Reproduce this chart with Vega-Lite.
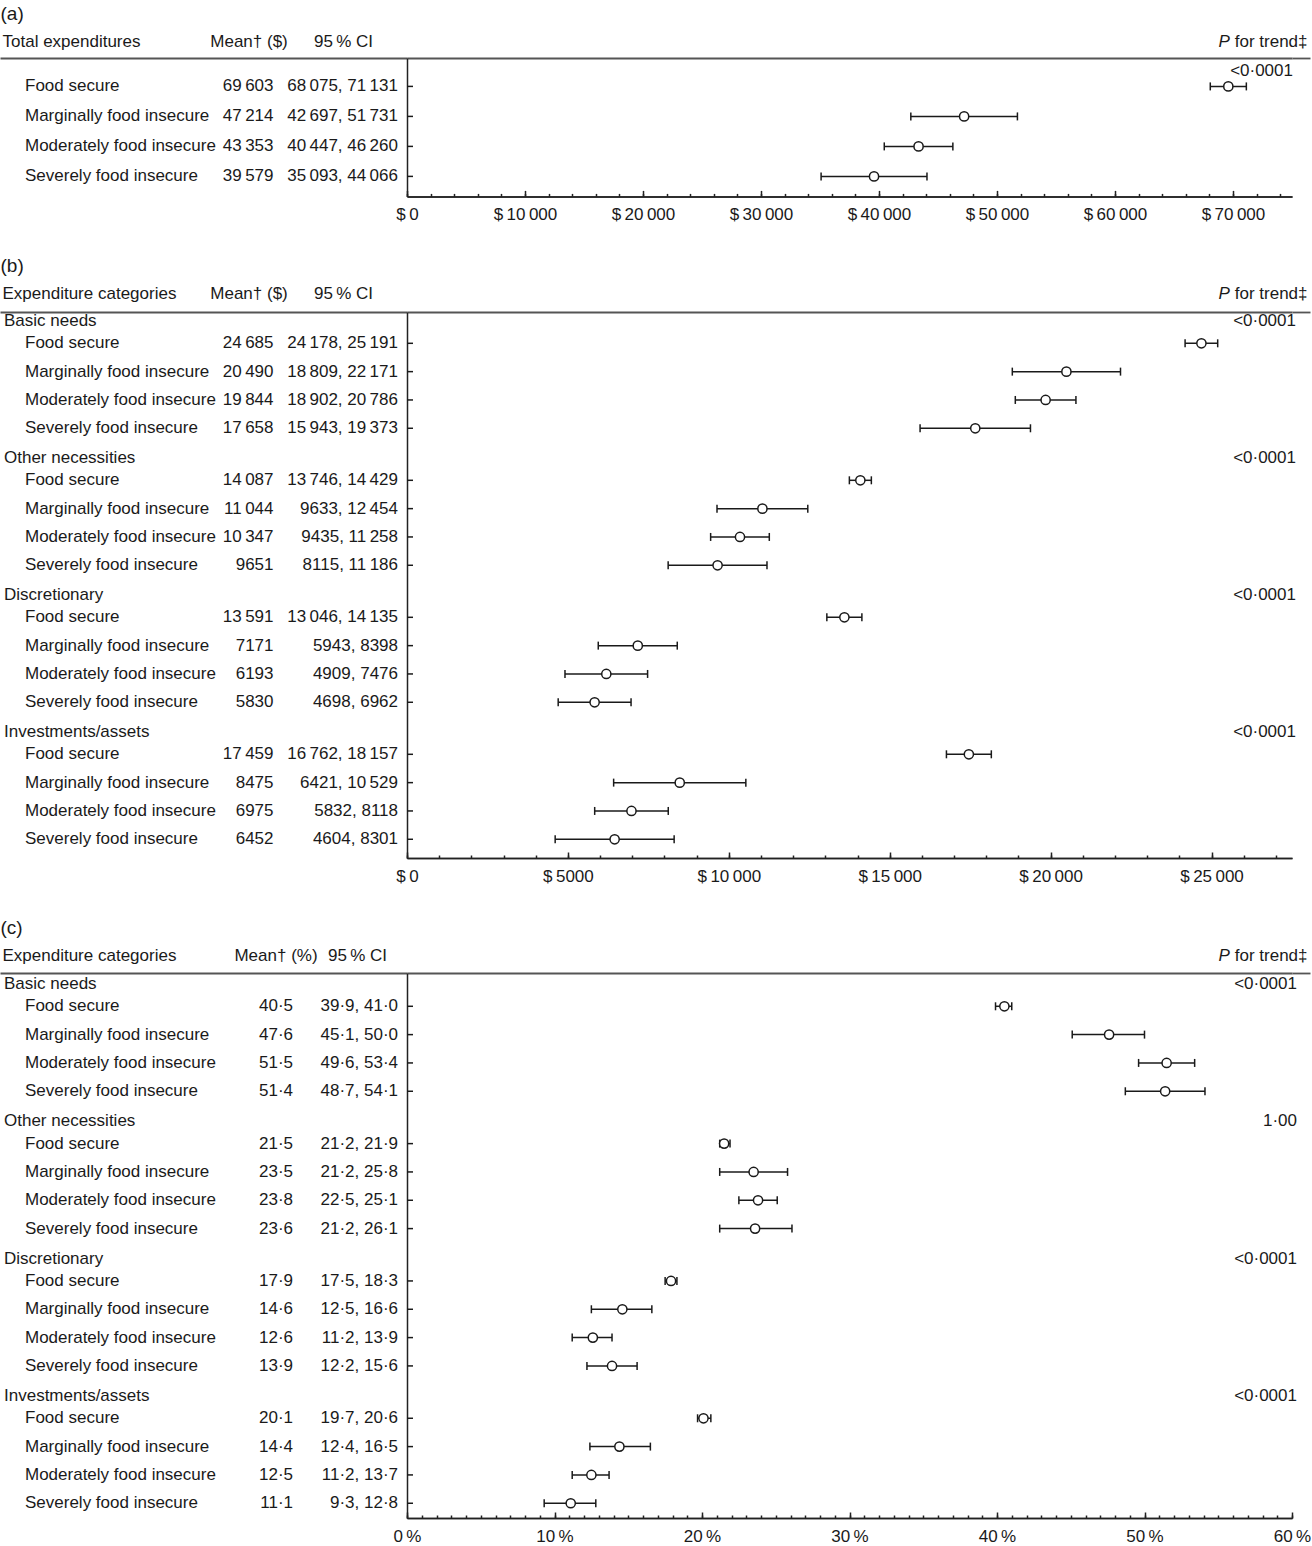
{
  "$schema": "https://vega.github.io/schema/vega-lite/v6.json",
  "padding": {"left": 0, "top": 4, "right": 0, "bottom": 0},
  "autosize": {"type": "pad"},
  "bounds": "flush",
  "columns": 3,
  "spacing": {"row": 115, "column": 0},
  "datasets": {
    "a": [
      {"item": "Food secure", "mean": 69603, "lo": 68075, "hi": 71131, "m": "69\u2009603", "ci": "68\u2009075, 71\u2009131"},
      {"item": "Marginally food insecure", "mean": 47214, "lo": 42697, "hi": 51731, "m": "47\u2009214", "ci": "42\u2009697, 51\u2009731"},
      {"item": "Moderately food insecure", "mean": 43353, "lo": 40447, "hi": 46260, "m": "43\u2009353", "ci": "40\u2009447, 46\u2009260"},
      {"item": "Severely food insecure", "mean": 39579, "lo": 35093, "hi": 44066, "m": "39\u2009579", "ci": "35\u2009093, 44\u2009066"}
    ],
    "b": [
      {"group": "Basic needs", "item": "Food secure", "mean": 24685, "lo": 24178, "hi": 25191, "m": "24\u2009685", "ci": "24\u2009178, 25\u2009191"},
      {"group": "Basic needs", "item": "Marginally food insecure", "mean": 20490, "lo": 18809, "hi": 22171, "m": "20\u2009490", "ci": "18\u2009809, 22\u2009171"},
      {"group": "Basic needs", "item": "Moderately food insecure", "mean": 19844, "lo": 18902, "hi": 20786, "m": "19\u2009844", "ci": "18\u2009902, 20\u2009786"},
      {"group": "Basic needs", "item": "Severely food insecure", "mean": 17658, "lo": 15943, "hi": 19373, "m": "17\u2009658", "ci": "15\u2009943, 19\u2009373"},
      {"group": "Other necessities", "item": "Food secure", "mean": 14087, "lo": 13746, "hi": 14429, "m": "14\u2009087", "ci": "13\u2009746, 14\u2009429"},
      {"group": "Other necessities", "item": "Marginally food insecure", "mean": 11044, "lo": 9633, "hi": 12454, "m": "11\u2009044", "ci": "9633, 12\u2009454"},
      {"group": "Other necessities", "item": "Moderately food insecure", "mean": 10347, "lo": 9435, "hi": 11258, "m": "10\u2009347", "ci": "9435, 11\u2009258"},
      {"group": "Other necessities", "item": "Severely food insecure", "mean": 9651, "lo": 8115, "hi": 11186, "m": "9651", "ci": "8115, 11\u2009186"},
      {"group": "Discretionary", "item": "Food secure", "mean": 13591, "lo": 13046, "hi": 14135, "m": "13\u2009591", "ci": "13\u2009046, 14\u2009135"},
      {"group": "Discretionary", "item": "Marginally food insecure", "mean": 7171, "lo": 5943, "hi": 8398, "m": "7171", "ci": "5943, 8398"},
      {"group": "Discretionary", "item": "Moderately food insecure", "mean": 6193, "lo": 4909, "hi": 7476, "m": "6193", "ci": "4909, 7476"},
      {"group": "Discretionary", "item": "Severely food insecure", "mean": 5830, "lo": 4698, "hi": 6962, "m": "5830", "ci": "4698, 6962"},
      {"group": "Investments/assets", "item": "Food secure", "mean": 17459, "lo": 16762, "hi": 18157, "m": "17\u2009459", "ci": "16\u2009762, 18\u2009157"},
      {"group": "Investments/assets", "item": "Marginally food insecure", "mean": 8475, "lo": 6421, "hi": 10529, "m": "8475", "ci": "6421, 10\u2009529"},
      {"group": "Investments/assets", "item": "Moderately food insecure", "mean": 6975, "lo": 5832, "hi": 8118, "m": "6975", "ci": "5832, 8118"},
      {"group": "Investments/assets", "item": "Severely food insecure", "mean": 6452, "lo": 4604, "hi": 8301, "m": "6452", "ci": "4604, 8301"}
    ],
    "bg": [
      {"group": "Basic needs", "p": "<0\u00b70001"},
      {"group": "Other necessities", "p": "<0\u00b70001"},
      {"group": "Discretionary", "p": "<0\u00b70001"},
      {"group": "Investments/assets", "p": "<0\u00b70001"}
    ],
    "c": [
      {"group": "Basic needs", "item": "Food secure", "mean": 40.5, "lo": 39.9, "hi": 41.0, "m": "40\u00b75", "ci": "39\u00b79, 41\u00b70"},
      {"group": "Basic needs", "item": "Marginally food insecure", "mean": 47.6, "lo": 45.1, "hi": 50.0, "m": "47\u00b76", "ci": "45\u00b71, 50\u00b70"},
      {"group": "Basic needs", "item": "Moderately food insecure", "mean": 51.5, "lo": 49.6, "hi": 53.4, "m": "51\u00b75", "ci": "49\u00b76, 53\u00b74"},
      {"group": "Basic needs", "item": "Severely food insecure", "mean": 51.4, "lo": 48.7, "hi": 54.1, "m": "51\u00b74", "ci": "48\u00b77, 54\u00b71"},
      {"group": "Other necessities", "item": "Food secure", "mean": 21.5, "lo": 21.2, "hi": 21.9, "m": "21\u00b75", "ci": "21\u00b72, 21\u00b79"},
      {"group": "Other necessities", "item": "Marginally food insecure", "mean": 23.5, "lo": 21.2, "hi": 25.8, "m": "23\u00b75", "ci": "21\u00b72, 25\u00b78"},
      {"group": "Other necessities", "item": "Moderately food insecure", "mean": 23.8, "lo": 22.5, "hi": 25.1, "m": "23\u00b78", "ci": "22\u00b75, 25\u00b71"},
      {"group": "Other necessities", "item": "Severely food insecure", "mean": 23.6, "lo": 21.2, "hi": 26.1, "m": "23\u00b76", "ci": "21\u00b72, 26\u00b71"},
      {"group": "Discretionary", "item": "Food secure", "mean": 17.9, "lo": 17.5, "hi": 18.3, "m": "17\u00b79", "ci": "17\u00b75, 18\u00b73"},
      {"group": "Discretionary", "item": "Marginally food insecure", "mean": 14.6, "lo": 12.5, "hi": 16.6, "m": "14\u00b76", "ci": "12\u00b75, 16\u00b76"},
      {"group": "Discretionary", "item": "Moderately food insecure", "mean": 12.6, "lo": 11.2, "hi": 13.9, "m": "12\u00b76", "ci": "11\u00b72, 13\u00b79"},
      {"group": "Discretionary", "item": "Severely food insecure", "mean": 13.9, "lo": 12.2, "hi": 15.6, "m": "13\u00b79", "ci": "12\u00b72, 15\u00b76"},
      {"group": "Investments/assets", "item": "Food secure", "mean": 20.1, "lo": 19.7, "hi": 20.6, "m": "20\u00b71", "ci": "19\u00b77, 20\u00b76"},
      {"group": "Investments/assets", "item": "Marginally food insecure", "mean": 14.4, "lo": 12.4, "hi": 16.5, "m": "14\u00b74", "ci": "12\u00b74, 16\u00b75"},
      {"group": "Investments/assets", "item": "Moderately food insecure", "mean": 12.5, "lo": 11.2, "hi": 13.7, "m": "12\u00b75", "ci": "11\u00b72, 13\u00b77"},
      {"group": "Investments/assets", "item": "Severely food insecure", "mean": 11.1, "lo": 9.3, "hi": 12.8, "m": "11\u00b71", "ci": "9\u00b73, 12\u00b78"}
    ],
    "cg": [
      {"group": "Basic needs", "p": "<0\u00b70001"},
      {"group": "Other necessities", "p": "1\u00b700"},
      {"group": "Discretionary", "p": "<0\u00b70001"},
      {"group": "Investments/assets", "p": "<0\u00b70001"}
    ],
    "ap": [
      {"item": "Food secure", "p": "<0\u00b70001"}
    ]
  },
  "concat": [
    {
      "width": 407, "height": 138.4,
      "data": {"name": "a"},
      "resolve": {"axis": {"x": "independent"}},
      "layer": [
        {
          "mark": {"type": "text", "align": "left", "dx": 25},
          "encoding": {
            "x": {"datum": "name", "type": "nominal", "scale": {"type": "point", "domain": ["name", "mean", "ci"], "padding": 0},
              "axis": {"orient": "top", "values": ["name", "mean", "ci"], "labelExpr": "datum.value === 'name' ? 'Total expenditures' : datum.value === 'mean' ? 'Mean\u2020 ($)' : '95\u2009% CI'", "labelAngle": 0, "ticks": false, "domain": true, "domainColor": "#555", "domainWidth": 1.8, "labelPadding": 17, "labelBaseline": "middle", "title": "(a)", "titleFontSize": 19, "titleX": 0, "titleY": -45, "titleAlign": "left", "titleBaseline": "middle", "titleAngle": 0,
                "labelAlign": {"condition": {"test": "datum.value === 'name'", "value": "left"}, "value": "center"},
                "labelOffset": {"condition": [{"test": "datum.value === 'name'", "value": 2}, {"test": "datum.value === 'mean'", "value": 45}], "value": -64}}},
            "y": {"field": "item", "type": "nominal", "scale": {"type": "band", "domain": ["Food secure", "Marginally food insecure", "Moderately food insecure", "Severely food insecure"], "paddingInner": 0, "paddingOuter": 0.307, "align": 0.728}, "axis": null},
            "text": {"field": "item"}
          }
        },
        {
          "mark": {"type": "text", "align": "right", "dx": 70},
          "encoding": {
            "x": {"datum": "mean", "type": "nominal", "axis": null},
            "y": {"field": "item", "type": "nominal", "axis": null},
            "text": {"field": "m"}
          }
        },
        {
          "mark": {"type": "text", "align": "right", "dx": -9},
          "encoding": {
            "x": {"datum": "ci", "type": "nominal", "axis": null},
            "y": {"field": "item", "type": "nominal", "axis": null},
            "text": {"field": "ci"}
          }
        }
      ]
    },
    {
      "width": 885, "height": 138.4,
      "data": {"name": "a"},
      "resolve": {"axis": {"x": "independent", "y": "independent"}},
      "layer": [
        {
          "mark": {"type": "rule", "color": "#1a1a1a", "strokeWidth": 1.5},
          "encoding": {
            "x": {"field": "lo", "type": "quantitative", "scale": {"domain": [0, 75000], "nice": false},
              "axis": {"orient": "bottom", "values": [0, 10000, 20000, 30000, 40000, 50000, 60000, 70000], "tickSize": -6, "labelPadding": 24.5, "labelBaseline": "middle", "title": null, "labelExpr": "'$\u2009' + (datum.value >= 10000 ? floor(datum.value / 1000) + '\u2009000' : datum.value)"}},
            "x2": {"field": "hi"},
            "y": {"field": "item", "type": "nominal", "scale": {"type": "band", "domain": ["Food secure", "Marginally food insecure", "Moderately food insecure", "Severely food insecure"], "paddingInner": 0, "paddingOuter": 0.307, "align": 0.728}, "axis": {"orient": "left", "domain": true, "ticks": false, "labels": false, "title": null}}
          }
        },
        {
          "mark": {"type": "tick", "color": "#1a1a1a", "thickness": 1.5, "size": 8, "opacity": 1},
          "encoding": {
            "x": {"field": "lo", "type": "quantitative", "axis": {"orient": "bottom", "values": [0, 2000, 4000, 6000, 8000, 10000, 12000, 14000, 16000, 18000, 20000, 22000, 24000, 26000, 28000, 30000, 32000, 34000, 36000, 38000, 40000, 42000, 44000, 46000, 48000, 50000, 52000, 54000, 56000, 58000, 60000, 62000, 64000, 66000, 68000, 70000, 72000, 74000], "tickSize": -3, "labels": false, "title": null}},
            "y": {"field": "item", "type": "nominal", "axis": null}
          }
        },
        {
          "mark": {"type": "tick", "color": "#1a1a1a", "thickness": 1.5, "size": 8, "opacity": 1},
          "encoding": {
            "x": {"field": "hi", "type": "quantitative", "axis": {"orient": "top", "domain": true, "domainColor": "#555", "domainWidth": 1.8, "ticks": false, "labels": false, "title": null}},
            "y": {"field": "item", "type": "nominal", "axis": null}
          }
        },
        {
          "mark": {"type": "point", "shape": "circle", "filled": true, "fill": "white", "stroke": "#1a1a1a", "strokeWidth": 1.5, "size": 85, "opacity": 1},
          "encoding": {
            "x": {"field": "mean", "type": "quantitative", "axis": null},
            "y": {"field": "item", "type": "nominal", "axis": null}
          }
        },
        {
          "mark": {"type": "tick", "orient": "horizontal", "color": "#1a1a1a", "thickness": 1.5, "size": 6, "xOffset": 3, "opacity": 1},
          "encoding": {
            "x": {"datum": 0, "type": "quantitative", "axis": null},
            "y": {"field": "item", "type": "nominal", "axis": null}
          }
        }
      ]
    },
    {
      "width": 18, "height": 138.4,
      "data": {"name": "ap"},
      "mark": {"type": "text", "align": "right", "dx": -8, "dy": -15},
      "encoding": {
        "x": {"datum": "p", "type": "nominal", "scale": {"type": "point", "domain": ["p"], "padding": 0},
          "axis": {"orient": "top", "values": ["p"], "labelExpr": "'for trend\u2021'", "labelAngle": 0, "labelAlign": "right", "labelOffset": 6, "ticks": false, "domain": true, "domainColor": "#555", "domainWidth": 1.8, "labelPadding": 17, "labelBaseline": "middle", "title": "P", "titleFontStyle": "italic", "titleX": -74, "titleY": -17, "titleAlign": "left", "titleBaseline": "middle", "titleAngle": 0}},
        "y": {"field": "item", "type": "nominal", "scale": {"type": "band", "domain": ["Food secure", "Marginally food insecure", "Moderately food insecure", "Severely food insecure"], "paddingInner": 0, "paddingOuter": 0.307, "align": 0.728}, "axis": null},
        "text": {"field": "p"}
      }
    },
    {
      "width": 407, "height": 546,
      "resolve": {"axis": {"x": "independent"}},
      "layer": [
        {
          "data": {"name": "bg"},
          "mark": {"type": "text", "align": "left", "dx": 4, "dy": -8},
          "encoding": {
            "x": {"datum": "name", "type": "nominal", "scale": {"type": "point", "domain": ["name", "mean", "ci"], "padding": 0},
              "axis": {"orient": "top", "values": ["name", "mean", "ci"], "labelExpr": "datum.value === 'name' ? 'Expenditure categories' : datum.value === 'mean' ? 'Mean\u2020 ($)' : '95\u2009% CI'", "labelAngle": 0, "ticks": false, "domain": true, "domainColor": "#555", "domainWidth": 1.8, "labelPadding": 19, "labelBaseline": "middle", "title": "(b)", "titleFontSize": 19, "titleX": 0, "titleY": -47, "titleAlign": "left", "titleBaseline": "middle", "titleAngle": 0,
                "labelAlign": {"condition": {"test": "datum.value === 'name'", "value": "left"}, "value": "center"},
                "labelOffset": {"condition": [{"test": "datum.value === 'name'", "value": 2}, {"test": "datum.value === 'mean'", "value": 45}], "value": -64}}},
            "y": {"field": "group", "type": "nominal", "bandPosition": 0, "scale": {"type": "band", "domain": ["Basic needs", "Other necessities", "Discretionary", "Investments/assets"], "paddingInner": 0.173, "paddingOuter": 0.0792, "align": 0.79}, "axis": null},
            "text": {"field": "group"}
          }
        },
        {
          "data": {"name": "b"},
          "mark": {"type": "text", "align": "left", "dx": 25},
          "encoding": {
            "x": {"datum": "name", "type": "nominal", "axis": null},
            "y": {"field": "group", "type": "nominal", "axis": null},
            "yOffset": {"field": "item", "type": "nominal", "scale": {"domain": ["Food secure", "Marginally food insecure", "Moderately food insecure", "Severely food insecure"], "paddingInner": 0, "paddingOuter": 0}},
            "text": {"field": "item"}
          }
        },
        {
          "data": {"name": "b"},
          "mark": {"type": "text", "align": "right", "dx": 70},
          "encoding": {
            "x": {"datum": "mean", "type": "nominal", "axis": null},
            "y": {"field": "group", "type": "nominal", "axis": null},
            "yOffset": {"field": "item", "type": "nominal"},
            "text": {"field": "m"}
          }
        },
        {
          "data": {"name": "b"},
          "mark": {"type": "text", "align": "right", "dx": -9},
          "encoding": {
            "x": {"datum": "ci", "type": "nominal", "axis": null},
            "y": {"field": "group", "type": "nominal", "axis": null},
            "yOffset": {"field": "item", "type": "nominal"},
            "text": {"field": "ci"}
          }
        }
      ]
    },
    {
      "width": 885, "height": 546,
      "data": {"name": "b"},
      "resolve": {"axis": {"x": "independent", "y": "independent"}},
      "layer": [
        {
          "mark": {"type": "rule", "color": "#1a1a1a", "strokeWidth": 1.5},
          "encoding": {
            "x": {"field": "lo", "type": "quantitative", "scale": {"domain": [0, 27500], "nice": false},
              "axis": {"orient": "bottom", "values": [0, 5000, 10000, 15000, 20000, 25000], "tickSize": -6, "labelPadding": 24.5, "labelBaseline": "middle", "title": null, "labelExpr": "'$\u2009' + (datum.value >= 10000 ? floor(datum.value / 1000) + '\u2009000' : datum.value)"}},
            "x2": {"field": "hi"},
            "y": {"field": "group", "type": "nominal", "scale": {"type": "band", "domain": ["Basic needs", "Other necessities", "Discretionary", "Investments/assets"], "paddingInner": 0.173, "paddingOuter": 0.0792, "align": 0.79}, "axis": {"orient": "left", "domain": true, "ticks": false, "labels": false, "title": null}},
            "yOffset": {"field": "item", "type": "nominal", "scale": {"domain": ["Food secure", "Marginally food insecure", "Moderately food insecure", "Severely food insecure"], "paddingInner": 0, "paddingOuter": 0}}
          }
        },
        {
          "mark": {"type": "tick", "color": "#1a1a1a", "thickness": 1.5, "size": 8, "opacity": 1},
          "encoding": {
            "x": {"field": "lo", "type": "quantitative", "axis": {"orient": "bottom", "values": [0, 1000, 2000, 3000, 4000, 5000, 6000, 7000, 8000, 9000, 10000, 11000, 12000, 13000, 14000, 15000, 16000, 17000, 18000, 19000, 20000, 21000, 22000, 23000, 24000, 25000, 26000, 27000], "tickSize": -3, "labels": false, "title": null}},
            "y": {"field": "group", "type": "nominal", "axis": null},
            "yOffset": {"field": "item", "type": "nominal"}
          }
        },
        {
          "mark": {"type": "tick", "color": "#1a1a1a", "thickness": 1.5, "size": 8, "opacity": 1},
          "encoding": {
            "x": {"field": "hi", "type": "quantitative", "axis": {"orient": "top", "domain": true, "domainColor": "#555", "domainWidth": 1.8, "ticks": false, "labels": false, "title": null}},
            "y": {"field": "group", "type": "nominal", "axis": null},
            "yOffset": {"field": "item", "type": "nominal"}
          }
        },
        {
          "mark": {"type": "point", "shape": "circle", "filled": true, "fill": "white", "stroke": "#1a1a1a", "strokeWidth": 1.5, "size": 85, "opacity": 1},
          "encoding": {
            "x": {"field": "mean", "type": "quantitative", "axis": null},
            "y": {"field": "group", "type": "nominal", "axis": null},
            "yOffset": {"field": "item", "type": "nominal"}
          }
        },
        {
          "mark": {"type": "tick", "orient": "horizontal", "color": "#1a1a1a", "thickness": 1.5, "size": 6, "xOffset": 3, "opacity": 1},
          "encoding": {
            "x": {"datum": 0, "type": "quantitative", "axis": null},
            "y": {"field": "group", "type": "nominal", "axis": null},
            "yOffset": {"field": "item", "type": "nominal"}
          }
        }
      ]
    },
    {
      "width": 18, "height": 546,
      "data": {"name": "bg"},
      "mark": {"type": "text", "align": "right", "dx": -5, "dy": -8},
      "encoding": {
        "x": {"datum": "p", "type": "nominal", "scale": {"type": "point", "domain": ["p"], "padding": 0},
          "axis": {"orient": "top", "values": ["p"], "labelExpr": "'for trend\u2021'", "labelAngle": 0, "labelAlign": "right", "labelOffset": 6, "ticks": false, "domain": true, "domainColor": "#555", "domainWidth": 1.8, "labelPadding": 19, "labelBaseline": "middle", "title": "P", "titleFontStyle": "italic", "titleX": -74, "titleY": -19, "titleAlign": "left", "titleBaseline": "middle", "titleAngle": 0}},
        "y": {"field": "group", "type": "nominal", "bandPosition": 0, "scale": {"type": "band", "domain": ["Basic needs", "Other necessities", "Discretionary", "Investments/assets"], "paddingInner": 0.173, "paddingOuter": 0.0792, "align": 0.79}, "axis": null},
        "text": {"field": "p"}
      }
    },
    {
      "width": 407, "height": 545,
      "resolve": {"axis": {"x": "independent"}},
      "layer": [
        {
          "data": {"name": "cg"},
          "mark": {"type": "text", "align": "left", "dx": 4, "dy": -8},
          "encoding": {
            "x": {"datum": "name", "type": "nominal", "scale": {"type": "point", "domain": ["name", "mean", "ci"], "padding": 0},
              "axis": {"orient": "top", "values": ["name", "mean", "ci"], "labelExpr": "datum.value === 'name' ? 'Expenditure categories' : datum.value === 'mean' ? 'Mean\u2020 (%)' : '95\u2009% CI'", "labelAngle": 0, "ticks": false, "domain": true, "domainColor": "#555", "domainWidth": 1.8, "labelPadding": 18, "labelBaseline": "middle", "title": "(c)", "titleFontSize": 19, "titleX": 0, "titleY": -46, "titleAlign": "left", "titleBaseline": "middle", "titleAngle": 0,
                "labelAlign": {"condition": {"test": "datum.value === 'name'", "value": "left"}, "value": "center"},
                "labelOffset": {"condition": [{"test": "datum.value === 'name'", "value": 2}, {"test": "datum.value === 'mean'", "value": 72}], "value": -50}}},
            "y": {"field": "group", "type": "nominal", "bandPosition": 0, "scale": {"type": "band", "domain": ["Basic needs", "Other necessities", "Discretionary", "Investments/assets"], "paddingInner": 0.175, "paddingOuter": 0.0718, "align": 0.97}, "axis": null},
            "text": {"field": "group"}
          }
        },
        {
          "data": {"name": "c"},
          "mark": {"type": "text", "align": "left", "dx": 25},
          "encoding": {
            "x": {"datum": "name", "type": "nominal", "axis": null},
            "y": {"field": "group", "type": "nominal", "axis": null},
            "yOffset": {"field": "item", "type": "nominal", "scale": {"domain": ["Food secure", "Marginally food insecure", "Moderately food insecure", "Severely food insecure"], "paddingInner": 0, "paddingOuter": 0}},
            "text": {"field": "item"}
          }
        },
        {
          "data": {"name": "c"},
          "mark": {"type": "text", "align": "right", "dx": 89.5},
          "encoding": {
            "x": {"datum": "mean", "type": "nominal", "axis": null},
            "y": {"field": "group", "type": "nominal", "axis": null},
            "yOffset": {"field": "item", "type": "nominal"},
            "text": {"field": "m"}
          }
        },
        {
          "data": {"name": "c"},
          "mark": {"type": "text", "align": "right", "dx": -9},
          "encoding": {
            "x": {"datum": "ci", "type": "nominal", "axis": null},
            "y": {"field": "group", "type": "nominal", "axis": null},
            "yOffset": {"field": "item", "type": "nominal"},
            "text": {"field": "ci"}
          }
        }
      ]
    },
    {
      "width": 885, "height": 545,
      "data": {"name": "c"},
      "resolve": {"axis": {"x": "independent", "y": "independent"}},
      "layer": [
        {
          "mark": {"type": "rule", "color": "#1a1a1a", "strokeWidth": 1.5},
          "encoding": {
            "x": {"field": "lo", "type": "quantitative", "scale": {"domain": [0, 60], "nice": false},
              "axis": {"orient": "bottom", "values": [0, 10, 20, 30, 40, 50, 60], "tickSize": -6, "labelPadding": 24.5, "labelBaseline": "middle", "title": null, "labelExpr": "datum.value + '\u2009%'"}},
            "x2": {"field": "hi"},
            "y": {"field": "group", "type": "nominal", "scale": {"type": "band", "domain": ["Basic needs", "Other necessities", "Discretionary", "Investments/assets"], "paddingInner": 0.175, "paddingOuter": 0.0718, "align": 0.97}, "axis": {"orient": "left", "domain": true, "ticks": false, "labels": false, "title": null}},
            "yOffset": {"field": "item", "type": "nominal", "scale": {"domain": ["Food secure", "Marginally food insecure", "Moderately food insecure", "Severely food insecure"], "paddingInner": 0, "paddingOuter": 0}}
          }
        },
        {
          "mark": {"type": "tick", "color": "#1a1a1a", "thickness": 1.5, "size": 8, "opacity": 1},
          "encoding": {
            "x": {"field": "lo", "type": "quantitative", "axis": {"orient": "bottom", "values": [0, 1, 2, 3, 4, 5, 6, 7, 8, 9, 10, 11, 12, 13, 14, 15, 16, 17, 18, 19, 20, 21, 22, 23, 24, 25, 26, 27, 28, 29, 30, 31, 32, 33, 34, 35, 36, 37, 38, 39, 40, 41, 42, 43, 44, 45, 46, 47, 48, 49, 50, 51, 52, 53, 54, 55, 56, 57, 58, 59, 60], "tickSize": -3, "labels": false, "title": null}},
            "y": {"field": "group", "type": "nominal", "axis": null},
            "yOffset": {"field": "item", "type": "nominal"}
          }
        },
        {
          "mark": {"type": "tick", "color": "#1a1a1a", "thickness": 1.5, "size": 8, "opacity": 1},
          "encoding": {
            "x": {"field": "hi", "type": "quantitative", "axis": {"orient": "top", "domain": true, "domainColor": "#555", "domainWidth": 1.8, "ticks": false, "labels": false, "title": null}},
            "y": {"field": "group", "type": "nominal", "axis": null},
            "yOffset": {"field": "item", "type": "nominal"}
          }
        },
        {
          "mark": {"type": "point", "shape": "circle", "filled": true, "fill": "white", "stroke": "#1a1a1a", "strokeWidth": 1.5, "size": 85, "opacity": 1},
          "encoding": {
            "x": {"field": "mean", "type": "quantitative", "axis": null},
            "y": {"field": "group", "type": "nominal", "axis": null},
            "yOffset": {"field": "item", "type": "nominal"}
          }
        },
        {
          "mark": {"type": "tick", "orient": "horizontal", "color": "#1a1a1a", "thickness": 1.5, "size": 6, "xOffset": 3, "opacity": 1},
          "encoding": {
            "x": {"datum": 0, "type": "quantitative", "axis": null},
            "y": {"field": "group", "type": "nominal", "axis": null},
            "yOffset": {"field": "item", "type": "nominal"}
          }
        }
      ]
    },
    {
      "width": 18, "height": 545,
      "data": {"name": "cg"},
      "mark": {"type": "text", "align": "right", "dx": -4, "dy": -8},
      "encoding": {
        "x": {"datum": "p", "type": "nominal", "scale": {"type": "point", "domain": ["p"], "padding": 0},
          "axis": {"orient": "top", "values": ["p"], "labelExpr": "'for trend\u2021'", "labelAngle": 0, "labelAlign": "right", "labelOffset": 6, "ticks": false, "domain": true, "domainColor": "#555", "domainWidth": 1.8, "labelPadding": 18, "labelBaseline": "middle", "title": "P", "titleFontStyle": "italic", "titleX": -74, "titleY": -18, "titleAlign": "left", "titleBaseline": "middle", "titleAngle": 0}},
        "y": {"field": "group", "type": "nominal", "bandPosition": 0, "scale": {"type": "band", "domain": ["Basic needs", "Other necessities", "Discretionary", "Investments/assets"], "paddingInner": 0.175, "paddingOuter": 0.0718, "align": 0.97}, "axis": null},
        "text": {"field": "p"}
      }
    }
  ],
  "config": {
    "font": "Liberation Sans",
    "view": {"stroke": null},
    "axis": {"grid": false, "labelFont": "Liberation Sans", "titleFont": "Liberation Sans", "labelFontSize": 17, "titleFontSize": 17, "titleFontWeight": "normal", "labelColor": "#1a1a1a", "titleColor": "#1a1a1a", "domainColor": "#222", "domainWidth": 1.5, "tickColor": "#222", "tickWidth": 1.5, "labelFlush": false, "labelOverlap": false, "labelBound": false},
    "text": {"font": "Liberation Sans", "fontSize": 17, "color": "#1a1a1a", "baseline": "middle"}
  }
}
